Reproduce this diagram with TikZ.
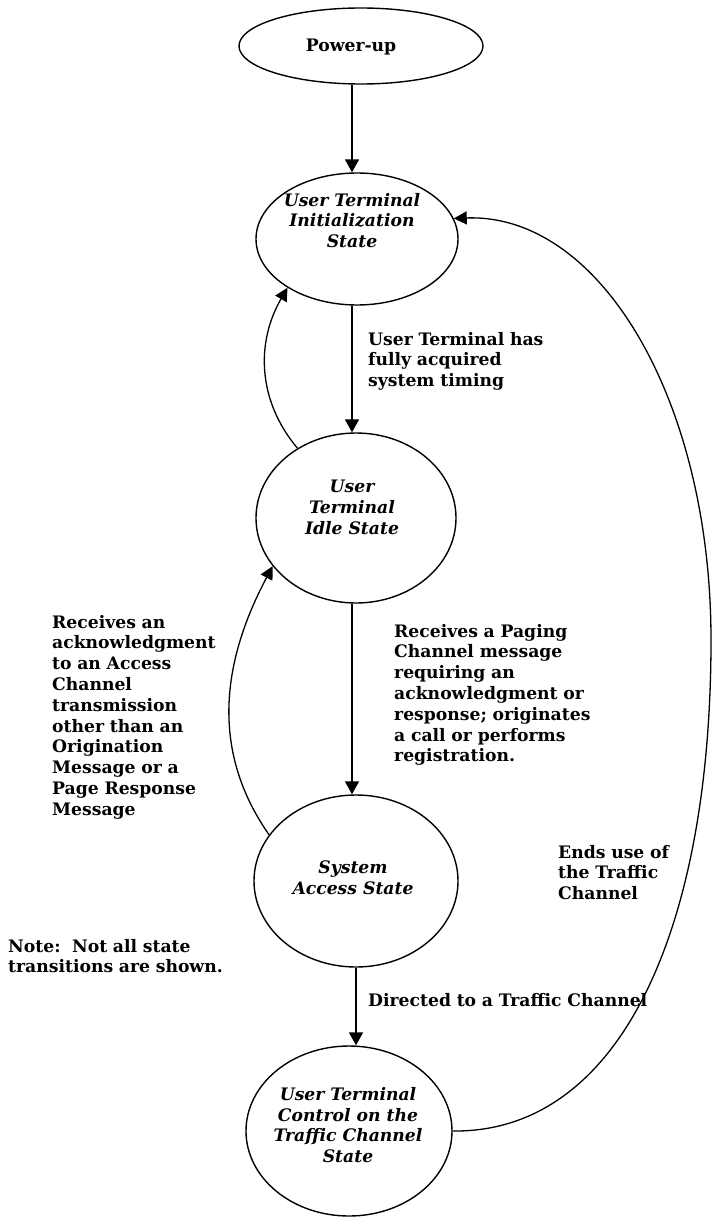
\documentclass[tikz,border=0pt]{standalone}
\usepackage{fontspec}
\setmainfont{DejaVu Serif}
\usetikzlibrary{arrows.meta,shapes.geometric}
\newcommand\diagfont{\fontsize{17.2}{20.8}\selectfont\bfseries}
\begin{document}
\begin{tikzpicture}[x=1pt,y=-1pt,
  stateshape/.style={ellipse, draw, line width=1.4pt, inner sep=0pt},
  statetext/.style={align=center, inner sep=0pt, font=\diagfont\itshape},
  lbl/.style={anchor=base west, align=left, text width=320pt, inner sep=0pt, font=\diagfont},
  arr/.style={line width=1.8pt, -{Triangle[width=14pt,length=13pt]}},
  bendarr/.style={line width=1.3pt, -{Triangle[width=13pt,length=13pt]}}]
\useasboundingbox (0,0) rectangle (712,1217);

% states
\node[stateshape, minimum width=244pt, minimum height=76pt] (pwr) at (361,46) {};
\node[inner sep=0pt, font=\diagfont] (pwrT) at (351,47) {Power-up};

\node[stateshape, minimum width=202pt, minimum height=132pt] (init) at (357,239) {};
\node[statetext] (initT) at (352,220.5) {User Terminal\\ Initialization\\State};

\node[stateshape, minimum width=200pt, minimum height=170pt] (idle) at (356,518) {};
\node[statetext] (idleT) at (352,507.5) {User\\Terminal\\Idle State};

\node[stateshape, minimum width=204pt, minimum height=172pt] (access) at (356,881) {};
\node[statetext] (accessT) at (353,877.5) {System\\Access State};

\node[stateshape, minimum width=206pt, minimum height=170pt] (ctl) at (349,1131) {};
\node[statetext] (ctlT) at (348,1125) {User Terminal\\Control on the\\Traffic Channel\\State};

% straight transitions
\coordinate (axis) at (352,0);
\draw[arr] (pwr.south -| axis) -- (axis |- init.north);
\draw[arr] (init.south -| axis) -- (axis |- idle.north);
\draw[arr] (idle.south -| axis) -- (axis |- access.north);
\draw[arr] (access.south) -- (access.south |- ctl.north);

% return transitions
\draw[bendarr] (idle.130) to[out=130,in=240] (init.215);
\draw[bendarr] (access.152) to[out=125,in=242] (idle.210);
\coordinate (rt) at (711,640);
\draw[bendarr] (ctl.east) .. controls (620,1133) and (711,930) .. (rt)
  .. controls (711,400) and (600,213) .. (init.12);

% transition labels
\node[lbl] (l1) at (368,345) {User Terminal has\\fully acquired\\system timing};
\node[lbl] (l2) at (394,637) {Receives a Paging\\Channel message\\requiring an\\acknowledgment or\\response; originates\\a call or performs\\registration.};
\node[lbl] (l3) at (52,628) {Receives an\\acknowledgment\\to an Access\\Channel\\transmission\\other than an\\Origination\\Message or a\\Page Response\\Message};
\node[lbl] (l4) at (558,858) {Ends use of\\the Traffic\\Channel};
\node[lbl] (l5) at (368,1006) {Directed to a Traffic Channel};
\node[lbl] (note) at (8,952) {Note:\ \ Not all state\\transitions are shown.};
\end{tikzpicture}
\end{document}
